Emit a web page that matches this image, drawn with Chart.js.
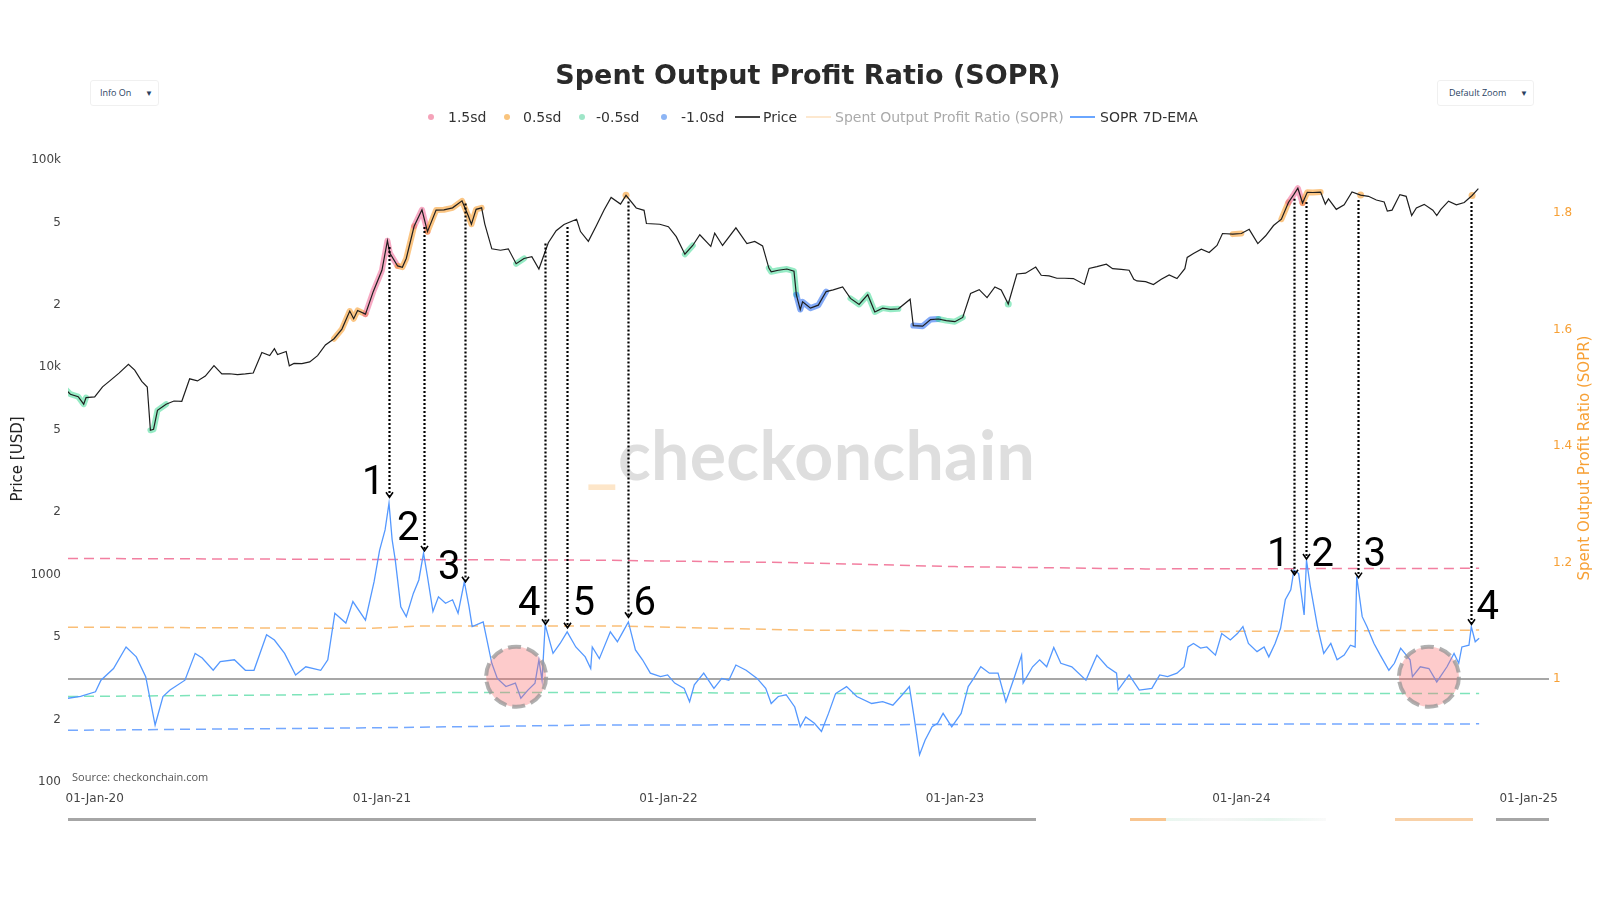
<!DOCTYPE html>
<html>
<head>
<meta charset="utf-8">
<title>Spent Output Profit Ratio (SOPR)</title>
<script src="https://cdn.jsdelivr.net/npm/chart.js@4.4.1/dist/chart.umd.min.js"></script>
<style>
  body { margin: 0; background: #fff; }
  #wrap { position: relative; width: 1600px; height: 900px; overflow: hidden; font-family: 'DejaVu Sans', sans-serif; }
  #chart { position: absolute; left: 0; top: 0; z-index: 1; }
  .abs { position: absolute; white-space: nowrap; z-index: 2; }
  .title { left: 0; width: 1616px; top: 60px; text-align: center; font: bold 27px 'DejaVu Sans', sans-serif; color: #2a2a2a; line-height: 30px; }
  .btn { top: 80px; height: 24px; border: 1px solid #f0f0f0; border-radius: 3px; background: #fff; font: 9px 'Open Sans', sans-serif; color: #2a3f5f; line-height: 24px; }
  .btn b { position: absolute; font-size: 8px; font-weight: normal; }
  .ltxt { top: 108px; font-size: 14px; line-height: 18px; color: #333; }
  .ldot { top: 114px; width: 6px; height: 6px; border-radius: 50%; }
  .lline { top: 116px; width: 25px; height: 2px; }
  .axt { font-size: 15px; line-height: 18px; width: 320px; text-align: center; transform: rotate(-90deg); }
  #wm { left: 586px; top: 420px; font: bold 68px 'Lato', sans-serif; line-height: 68px; color: #dedede; z-index: 0; letter-spacing: 0.3px; }
  #wm span { color: #fde6c9; }
  .src { left: 72px; top: 769px; font: 11px 'Open Sans', sans-serif; color: #555; line-height: 16px; }
  .rs { top: 818px; height: 3px; z-index: 2; }
</style>
</head>
<body>
<div id="wrap">
  <div class="abs" id="wm"><span>_</span>checkonchain</div>
  <canvas id="chart" width="1600" height="900"></canvas>

  <div class="abs title">Spent Output Profit Ratio (SOPR)</div>
  <div class="abs btn" style="left:90px;width:67px;"><span style="position:absolute;left:9px;">Info On</span><b style="left:54px;">&#9660;</b></div>
  <div class="abs btn" style="left:1437px;width:95px;"><span style="position:absolute;left:11px;">Default Zoom</span><b style="left:82px;">&#9660;</b></div>

  <div class="abs ldot" style="left:428px;background:#f5a3b9;"></div>
  <div class="abs ltxt" style="left:448px;">1.5sd</div>
  <div class="abs ldot" style="left:504px;background:#f9c47d;"></div>
  <div class="abs ltxt" style="left:523px;">0.5sd</div>
  <div class="abs ldot" style="left:579px;background:#9fe6c8;"></div>
  <div class="abs ltxt" style="left:596px;">-0.5sd</div>
  <div class="abs ldot" style="left:661px;background:#8db5f5;"></div>
  <div class="abs ltxt" style="left:681px;">-1.0sd</div>
  <div class="abs lline" style="left:735px;background:#444;"></div>
  <div class="abs ltxt" style="left:763px;">Price</div>
  <div class="abs lline" style="left:806px;background:#fde8cf;"></div>
  <div class="abs ltxt" style="left:835px;color:#aaa;">Spent Output Profit Ratio (SOPR)</div>
  <div class="abs lline" style="left:1070px;background:#6aa6ff;"></div>
  <div class="abs ltxt" style="left:1100px;">SOPR 7D-EMA</div>

  <div class="abs axt" style="left:-143px;top:450px;color:#222;">Price [USD]</div>
  <div class="abs axt" style="left:1424px;top:449px;color:#f7a035;">Spent Output Profit Ratio (SOPR)</div>

  <div class="abs src">Source: checkonchain.com</div>

  <div class="abs rs" style="left:68px;width:968px;background:#a6a6a6;"></div>
  <div class="abs rs" style="left:1130px;width:36px;background:#f6b26b;opacity:0.75;"></div>
  <div class="abs rs" style="left:1166px;width:160px;background:linear-gradient(90deg,#e9f7f0,#f5f5f5,#e6f6ee,#fafafa);"></div>
  <div class="abs rs" style="left:1395px;width:78px;background:#f4b36e;opacity:0.6;"></div>
  <div class="abs rs" style="left:1496px;width:53px;background:#a6a6a6;"></div>
</div>

<script>
// ---- price (left, log) ----
const priceDates = [
  '2019-11-21', '2019-12-01', '2019-12-11', '2019-12-18', '2019-12-21',
  '2020-01-01', '2020-01-11', '2020-01-21', '2020-02-01', '2020-02-13', '2020-02-21', '2020-03-01', '2020-03-08',
  '2020-03-12', '2020-03-16', '2020-03-21', '2020-04-01', '2020-04-11', '2020-04-21', '2020-05-01', '2020-05-11',
  '2020-05-21', '2020-06-01', '2020-06-11', '2020-06-21', '2020-07-01', '2020-07-11', '2020-07-21', '2020-08-01',
  '2020-08-11', '2020-08-17', '2020-08-21', '2020-09-01', '2020-09-05', '2020-09-11', '2020-09-21', '2020-10-01',
  '2020-10-11', '2020-10-21', '2020-11-01', '2020-11-11', '2020-11-21', '2020-11-26', '2020-12-01', '2020-12-11',
  '2020-12-21',
  '2021-01-01', '2021-01-08', '2021-01-11', '2021-01-21', '2021-01-27', '2021-02-01', '2021-02-11', '2021-02-21',
  '2021-02-28', '2021-03-11', '2021-03-21', '2021-04-01', '2021-04-13', '2021-04-21', '2021-04-25', '2021-05-01',
  '2021-05-08', '2021-05-12', '2021-05-21', '2021-06-01', '2021-06-11', '2021-06-21', '2021-07-01', '2021-07-11',
  '2021-07-20', '2021-08-01', '2021-08-11', '2021-08-21', '2021-09-06', '2021-09-11', '2021-09-21', '2021-10-01',
  '2021-10-11', '2021-10-20', '2021-11-01', '2021-11-08', '2021-11-21', '2021-12-01', '2021-12-04', '2021-12-21',
  '2022-01-01', '2022-01-11', '2022-01-22', '2022-02-01', '2022-02-10', '2022-02-24', '2022-03-01', '2022-03-11',
  '2022-03-28', '2022-04-11', '2022-04-21', '2022-05-01', '2022-05-09', '2022-05-12', '2022-05-21', '2022-06-01',
  '2022-06-10', '2022-06-13', '2022-06-18', '2022-06-21', '2022-07-01', '2022-07-11', '2022-07-21', '2022-07-30',
  '2022-08-11', '2022-08-21', '2022-09-01', '2022-09-12', '2022-09-21', '2022-10-01', '2022-10-11', '2022-10-21',
  '2022-11-05', '2022-11-09', '2022-11-21', '2022-12-01', '2022-12-11', '2022-12-21',
  '2023-01-01', '2023-01-11', '2023-01-21', '2023-02-01', '2023-02-11', '2023-02-21', '2023-03-01', '2023-03-10',
  '2023-03-21', '2023-04-01', '2023-04-14', '2023-04-21', '2023-05-01', '2023-05-11', '2023-05-21', '2023-06-01',
  '2023-06-15', '2023-06-21', '2023-07-01', '2023-07-13', '2023-07-21', '2023-08-01', '2023-08-11', '2023-08-17',
  '2023-08-21', '2023-09-01', '2023-09-11', '2023-09-21', '2023-10-01', '2023-10-11', '2023-10-21', '2023-10-24',
  '2023-11-01', '2023-11-11', '2023-11-21', '2023-12-01', '2023-12-08', '2023-12-21',
  '2024-01-01', '2024-01-11', '2024-01-22', '2024-02-01', '2024-02-11', '2024-02-21', '2024-03-01', '2024-03-08',
  '2024-03-13', '2024-03-19', '2024-03-25', '2024-04-01', '2024-04-11', '2024-04-17', '2024-04-21', '2024-05-01',
  '2024-05-11', '2024-05-21', '2024-06-01', '2024-06-11', '2024-06-21', '2024-07-01', '2024-07-05', '2024-07-11',
  '2024-07-21', '2024-07-29', '2024-08-05', '2024-08-11', '2024-08-21', '2024-09-01', '2024-09-06', '2024-09-11',
  '2024-09-21', '2024-10-01', '2024-10-11', '2024-10-21', '2024-10-29'
];
const priceValues = [
  8100, 7420, 7220, 6640, 7150,
  7200, 8050, 8650, 9380, 10350, 9690, 8550, 8040,
  4970, 5020, 6200, 6640, 6880, 6860, 8800, 8600,
  9080, 10200, 9300, 9310, 9230, 9290, 9390, 11800,
  11400, 12300, 11520, 11920, 10170, 10440, 10420, 10620,
  11390, 12820, 13740, 15290, 18680, 17150, 18800, 18060,
  23240,
  29370, 40800, 35570, 30830, 30400, 33500, 47910, 57540,
  45140, 57330, 57520, 58780, 63500, 53800, 49000, 57800,
  58800, 49200, 37300, 36700, 37300, 31600, 33500, 34200,
  29800, 39900, 45600, 48900, 51750, 45160, 40500, 48100,
  57400, 65990, 61300, 67550, 58700, 57200, 49400, 49000,
  47700, 42700, 35100, 38700, 43600, 38300, 44400, 38700,
  47100, 39500, 40500, 38500, 30100, 28900, 29400, 29800,
  29100, 22400, 19000, 20700, 19300, 19950, 23200, 23650,
  24400, 21500, 20100, 22400, 18500, 19300, 19050, 19150,
  21300, 15900, 15800, 17000, 17100, 16800,
  16600, 17400, 22700, 23700, 21700, 24400, 23600, 20200,
  28200, 28450, 30450, 27800, 27600, 26900, 26900, 26800,
  25100, 30000, 30600, 31450, 29900, 29700, 29400, 26600,
  26100, 25900, 25100, 26600, 27900, 26800, 29900, 33900,
  35400, 37100, 35800, 38700, 44200, 43900,
  44200, 46300, 39500, 43100, 48300, 51800, 62400, 68300,
  73100, 62000, 69900, 69700, 70000, 61300, 64900, 57800,
  60800, 70100, 67700, 66800, 64100, 62700, 56700, 57300,
  68100, 66800, 54000, 58700, 61100, 57300, 53950, 57600,
  63300, 60800, 62400, 67400, 72700
];
// SOPR band each price point sits in: p = 1.5sd, o = 0.5sd, g = -0.5sd, b = -1.0sd
const priceBand = [
  'g', 'g', 'g', 'g', 'g',
  '', '', '', '', '', '', '', '',
  'g', 'g', 'g', 'g', '', '', '', '',
  '', '', '', '', '', '', '', '',
  '', '', '', '', '', '', '', '',
  '', '', 'o', 'o', 'o', 'o', 'o', 'o',
  'p',
  'p', 'p', 'p', 'o', 'o', 'o', 'o', 'p',
  'o', 'o', 'o', 'o', 'o', 'o', 'o', 'o',
  'o', '', '', '', '', 'g', 'g', '',
  '', '', '', '', '', '', '', '',
  '', '', '', 'o', '', '', '', '',
  '', '', 'g', 'g', '', '', '', '',
  '', '', '', '', 'g', 'g', 'g', 'g',
  'g', 'b', 'b', 'b', 'b', 'b', 'g', '',
  '', 'g', 'g', 'g', 'g', 'g', 'g', 'g',
  '', 'b', 'b', 'b', 'g', 'g',
  'g', 'g', '', '', '', '', '', 'g',
  '', '', '', '', '', '', '', '',
  '', '', '', '', '', '', '', '',
  '', '', '', '', '', '', '', '',
  '', '', '', '', '', 'o',
  'o', '', '', '', '', 'o', 'o', 'p',
  'p', 'o', 'o', 'o', 'o', '', '', '',
  '', '', 'o', '', '', '', '', '',
  '', '', '', '', '', '', '', '',
  '', '', '', 'o', ''
];

// ---- SOPR 7D-EMA (right axis) ----
const soprDates = [
  '2019-11-28', '2019-12-14', '2020-01-02', '2020-01-09', '2020-01-25', '2020-02-10', '2020-02-23', '2020-03-06',
  '2020-03-18', '2020-03-28', '2020-04-06', '2020-04-25', '2020-05-08', '2020-05-17', '2020-05-31', '2020-06-09',
  '2020-06-27', '2020-07-11', '2020-07-22', '2020-08-07', '2020-08-17', '2020-08-30', '2020-09-13', '2020-09-26',
  '2020-10-15', '2020-10-24', '2020-11-02', '2020-11-16', '2020-11-25', '2020-12-11', '2020-12-22', '2020-12-29',
  '2021-01-05', '2021-01-10', '2021-01-14', '2021-01-18', '2021-01-25', '2021-02-01', '2021-02-10', '2021-02-17',
  '2021-02-23', '2021-02-28', '2021-03-07', '2021-03-14', '2021-03-23', '2021-04-01', '2021-04-08', '2021-04-16',
  '2021-04-22', '2021-04-26', '2021-05-10', '2021-05-21', '2021-05-28', '2021-06-08', '2021-06-20', '2021-06-27',
  '2021-07-06', '2021-07-15', '2021-07-20', '2021-07-24', '2021-07-28', '2021-08-07', '2021-08-16', '2021-08-25',
  '2021-09-05', '2021-09-17', '2021-09-24', '2021-09-26', '2021-10-05', '2021-10-19', '2021-10-28', '2021-11-04',
  '2021-11-11', '2021-11-20', '2021-11-29', '2021-12-09', '2021-12-22', '2021-12-31',
  '2022-01-09', '2022-01-21', '2022-01-28', '2022-02-03', '2022-02-15', '2022-02-28', '2022-03-10', '2022-03-19',
  '2022-03-28', '2022-04-10', '2022-04-24', '2022-05-05', '2022-05-12', '2022-05-21', '2022-05-31', '2022-06-11',
  '2022-06-18', '2022-06-25', '2022-07-06', '2022-07-15', '2022-07-24', '2022-08-02', '2022-08-16', '2022-08-29',
  '2022-09-17', '2022-10-01', '2022-10-14', '2022-10-26', '2022-11-04', '2022-11-10', '2022-11-17', '2022-11-24',
  '2022-12-03', '2022-12-10', '2022-12-17', '2022-12-28',
  '2023-01-09', '2023-01-18', '2023-01-25', '2023-02-03', '2023-02-14', '2023-02-25', '2023-03-07', '2023-03-18',
  '2023-03-27', '2023-03-29', '2023-04-10', '2023-04-19', '2023-04-28', '2023-05-07', '2023-05-16', '2023-05-30',
  '2023-06-17', '2023-07-01', '2023-07-14', '2023-07-26', '2023-07-28', '2023-08-11', '2023-08-24', '2023-09-09',
  '2023-09-19', '2023-09-29', '2023-10-11', '2023-10-20', '2023-10-25', '2023-11-01', '2023-11-10', '2023-11-18',
  '2023-11-29', '2023-12-07', '2023-12-18', '2023-12-27',
  '2024-01-03', '2024-01-10', '2024-01-21', '2024-01-30', '2024-02-05', '2024-02-13', '2024-02-20', '2024-02-26',
  '2024-03-04', '2024-03-08', '2024-03-14', '2024-03-21', '2024-03-24', '2024-03-29', '2024-04-07', '2024-04-15',
  '2024-04-24', '2024-05-02', '2024-05-11', '2024-05-19', '2024-05-25', '2024-05-27', '2024-06-03', '2024-06-09',
  '2024-06-18', '2024-06-26', '2024-07-07', '2024-07-14', '2024-07-22', '2024-08-03', '2024-08-06', '2024-08-16',
  '2024-08-27', '2024-09-06', '2024-09-19', '2024-09-28', '2024-10-04', '2024-10-08', '2024-10-17', '2024-10-20',
  '2024-10-25', '2024-10-30'
];
const soprEma = [
  0.967, 0.970, 0.978, 0.998, 1.018, 1.055, 1.038, 1.004,
  0.921, 0.970, 0.981, 0.998, 1.044, 1.036, 1.015, 1.030,
  1.033, 1.015, 1.015, 1.076, 1.067, 1.044, 1.007, 1.021,
  1.015, 1.033, 1.113, 1.096, 1.133, 1.101, 1.167, 1.221,
  1.256, 1.302, 1.239, 1.204, 1.124, 1.107, 1.147, 1.170,
  1.216, 1.176, 1.116, 1.141, 1.130, 1.136, 1.113, 1.167,
  1.124, 1.090, 1.098, 1.027, 1.001, 0.987, 0.993, 0.967,
  0.981, 0.993, 1.033, 0.998, 1.093, 1.044, 1.061, 1.081,
  1.055, 1.038, 1.018, 1.055, 1.035, 1.081, 1.064, 1.081,
  1.098, 1.050, 1.033, 1.010, 1.004, 1.007,
  0.993, 0.984, 0.961, 0.990, 1.010, 0.984, 1.001, 0.998,
  1.024, 1.015, 1.001, 0.984, 0.958, 0.970, 0.973, 0.952,
  0.918, 0.935, 0.924, 0.910, 0.941, 0.975, 0.987, 0.970,
  0.958, 0.961, 0.955, 0.973, 0.987, 0.935, 0.870, 0.895,
  0.918, 0.924, 0.941, 0.918,
  0.941, 0.987, 1.001, 1.021, 1.010, 1.010, 0.961, 1.004,
  1.041, 0.993, 1.021, 1.033, 1.021, 1.054, 1.027, 1.021,
  0.998, 1.041, 1.021, 1.010, 0.981, 1.007, 0.981, 0.984,
  1.007, 1.004, 1.010, 1.021, 1.055, 1.061, 1.053, 1.055,
  1.041, 1.078, 1.067, 1.078,
  1.090, 1.061, 1.047, 1.055, 1.038, 1.061, 1.087, 1.136,
  1.153, 1.187, 1.181, 1.110, 1.204, 1.158, 1.090, 1.044,
  1.061, 1.033, 1.041, 1.058, 1.055, 1.176, 1.107, 1.090,
  1.061, 1.041, 1.015, 1.027, 1.053, 1.033, 1.004, 1.021,
  1.018, 0.995, 1.021, 1.044, 1.027, 1.055, 1.058, 1.090,
  1.064, 1.070
];

// ---- SOPR standard-deviation bands ----
const sd15Dates = ['2019-11-28', '2021-10-01', '2022-06-01', '2023-01-01', '2023-09-01', '2024-10-30'];
const sd15Values = [1.207, 1.204, 1.200, 1.193, 1.189, 1.190];
const sd05Dates = ['2019-11-28', '2020-12-15', '2021-02-15', '2021-11-01', '2022-06-15', '2023-09-01', '2024-10-30'];
const sd05Values = [1.089, 1.087, 1.091, 1.091, 1.084, 1.081, 1.084];
const sdm05Dates = ['2019-11-28', '2020-10-01', '2021-04-01', '2021-11-01', '2022-09-01', '2024-10-30'];
const sdm05Values = [0.970, 0.973, 0.977, 0.977, 0.975, 0.975];
const sdm10Dates = ['2019-11-28', '2020-12-01', '2021-10-01', '2024-10-30'];
const sdm10Values = [0.912, 0.916, 0.921, 0.923];
const oneDates = ['2019-11-28', '2025-01-27'];
const oneValues = [1, 1];

// ---- annotations: arrows from price down to SOPR peaks ----
const annDates = ['2021-01-10', '2021-02-24', '2021-04-17', '2021-07-28', '2021-08-25', '2021-11-10',
                  '2024-03-08', '2024-03-24', '2024-05-29', '2024-10-19'];
const annPriceTop = [38900, 48600, 63000, 40400, 48600, 64500, 66500, 64200, 65600, 64200];
const annSoprTip = [1.312, 1.220, 1.167, 1.094, 1.088, 1.106, 1.179, 1.206, 1.174, 1.094];
const annLabelSopr = [1.342, 1.262, 1.196, 1.134, 1.134, 1.134, 1.218, 1.218, 1.218, 1.127];
const annLabels = ['1', '2', '3', '4', '5', '6', '1', '2', '3', '4'];
const annSide = [-1, -1, -1, -1, 1, 1, -1, 1, 1, 1];
const circleDates = ['2021-06-21', '2024-08-27'];
const circleSopr = [1.004, 1.004];

// ---- axes ----
const xMinDate = '2019-11-28';
const xMaxDate = '2025-01-27';
const xTickDates = ['2020-01-01', '2021-01-01', '2022-01-01', '2023-01-01', '2024-01-01', '2025-01-01'];
const xTickLabels = ['01-Jan-20', '01-Jan-21', '01-Jan-22', '01-Jan-23', '01-Jan-24', '01-Jan-25'];
const priceTickValues = [100, 200, 500, 1000, 2000, 5000, 10000, 20000, 50000, 100000];
const priceTickLabels = ['100', '2', '5', '1000', '2', '5', '10k', '2', '5', '100k'];
const soprTickValues = [1, 1.2, 1.4, 1.6, 1.8];
const soprTickLabels = ['1', '1.2', '1.4', '1.6', '1.8'];

const DAY0 = Date.UTC(2020, 0, 1);
const toDay = s => { const p = s.split('-'); return (Date.UTC(+p[0], +p[1] - 1, +p[2]) - DAY0) / 864e5; };
const pts = (dates, vals) => dates.map((d, i) => ({ x: toDay(d), y: vals[i] }));
const xTickDays = xTickDates.map(toDay);

const bandColors = {
  p: 'rgba(240,98,146,0.55)',
  o: 'rgba(247,150,30,0.55)',
  g: 'rgba(45,215,140,0.5)',
  b: 'rgba(30,100,240,0.55)'
};
const isolated = i => priceBand[i] && !priceBand[i - 1] && !priceBand[i + 1];

const bandLine = (dates, vals, color) => ({
  data: pts(dates, vals), yAxisID: 'ySopr', borderColor: color, borderWidth: 1.5,
  borderDash: [10, 6], pointRadius: 0
});

const annotationPlugin = {
  id: 'soprAnnotations',
  afterDatasetsDraw(chart) {
    const { ctx, scales } = chart;
    const x = scales.x, yP = scales.yPrice, yS = scales.ySopr;
    ctx.save();
    circleDates.forEach((d, i) => {
      const cx = x.getPixelForValue(toDay(d)), cy = yS.getPixelForValue(circleSopr[i]);
      ctx.beginPath();
      ctx.arc(cx, cy, 30, 0, Math.PI * 2);
      ctx.fillStyle = 'rgba(250,110,110,0.36)';
      ctx.fill();
      ctx.setLineDash([13, 6]);
      ctx.lineWidth = 4;
      ctx.strokeStyle = 'rgba(150,150,150,0.75)';
      ctx.stroke();
    });
    annDates.forEach((d, i) => {
      const ax = Math.round(x.getPixelForValue(toDay(d))) + 0.5;
      const y0 = yP.getPixelForValue(annPriceTop[i]) + 2;
      const y1 = yS.getPixelForValue(annSoprTip[i]);
      ctx.setLineDash([2, 2]);
      ctx.lineWidth = 2.2;
      ctx.strokeStyle = '#000';
      ctx.beginPath();
      ctx.moveTo(ax, y0);
      ctx.lineTo(ax, y1 - 1);
      ctx.stroke();
      ctx.setLineDash([]);
      ctx.lineWidth = 1.6;
      ctx.beginPath();
      ctx.moveTo(ax - 3.5, y1 - 5);
      ctx.lineTo(ax, y1);
      ctx.lineTo(ax + 3.5, y1 - 5);
      ctx.stroke();
      ctx.font = '40px Roboto';
      ctx.fillStyle = '#000';
      ctx.textBaseline = 'alphabetic';
      ctx.textAlign = annSide[i] < 0 ? 'right' : 'left';
      ctx.fillText(annLabels[i], ax + annSide[i] * 5, yS.getPixelForValue(annLabelSopr[i]) + 14);
    });
    ctx.restore();
  }
};

const tickFont = { family: 'DejaVu Sans', size: 12 };

new Chart(document.getElementById('chart').getContext('2d'), {
  type: 'line',
  data: {
    datasets: [
      {
        label: 'Price', data: pts(priceDates, priceValues), yAxisID: 'yPrice',
        borderColor: '#1e1e1e', borderWidth: 1.2, pointRadius: 0
      },
      {
        label: 'band', data: pts(priceDates, priceValues), yAxisID: 'yPrice',
        borderColor: 'rgba(0,0,0,0)', borderWidth: 6, borderCapStyle: 'round', borderJoinStyle: 'round',
        segment: {
          borderColor: c => {
            const a = priceBand[c.p0DataIndex], b = priceBand[c.p1DataIndex];
            if (!a || !b) return 'rgba(0,0,0,0)';
            return bandColors[a === 'p' || b === 'p' ? 'p' : a];
          }
        },
        pointRadius: c => isolated(c.dataIndex) ? 3.5 : 0,
        pointBorderWidth: 0,
        pointBackgroundColor: c => bandColors[priceBand[c.dataIndex]] || 'rgba(0,0,0,0)'
      },
      {
        label: 'SOPR 7D-EMA', data: pts(soprDates, soprEma), yAxisID: 'ySopr',
        borderColor: 'rgb(84,152,255)', borderWidth: 1.3, pointRadius: 0
      },
      {
        label: 'one', data: pts(oneDates, oneValues), yAxisID: 'ySopr',
        borderColor: '#8a8a8a', borderWidth: 1.6, pointRadius: 0
      },
      bandLine(sd15Dates, sd15Values, 'rgba(236,72,120,0.7)'),
      bandLine(sd05Dates, sd05Values, 'rgba(247,147,26,0.6)'),
      bandLine(sdm05Dates, sdm05Values, 'rgba(40,210,140,0.6)'),
      bandLine(sdm10Dates, sdm10Values, 'rgba(41,121,255,0.65)')
    ]
  },
  options: {
    responsive: false,
    animation: false,
    devicePixelRatio: 1,
    layout: { padding: { top: 160, left: 0, right: 0, bottom: 0 } },
    plugins: { legend: { display: false }, tooltip: { enabled: false } },
    elements: { line: { tension: 0 } },
    scales: {
      x: {
        type: 'linear', min: toDay(xMinDate), max: toDay(xMaxDate),
        grid: { display: false, drawTicks: false }, border: { display: false },
        afterBuildTicks: s => { s.ticks = xTickDays.map(v => ({ value: v })); },
        afterFit: s => { s.height = 118; },
        ticks: {
          autoSkip: false, maxRotation: 0, padding: 10, font: tickFont, color: '#444',
          callback: v => xTickLabels[xTickDays.indexOf(v)] ?? ''
        }
      },
      yPrice: {
        type: 'logarithmic', position: 'left', min: 100, max: 100000,
        grid: { display: false, drawTicks: false }, border: { display: false },
        afterBuildTicks: s => { s.ticks = priceTickValues.map(v => ({ value: v })); },
        afterFit: s => { s.width = 68; },
        ticks: {
          autoSkip: false, padding: 7, font: tickFont, color: '#444',
          callback: v => priceTickLabels[priceTickValues.indexOf(v)] ?? ''
        }
      },
      ySopr: {
        type: 'linear', position: 'right', min: 0.8232, max: 1.891,
        grid: { display: false, drawTicks: false }, border: { display: false },
        afterBuildTicks: s => { s.ticks = soprTickValues.map(v => ({ value: v })); },
        afterFit: s => { s.width = 51; },
        ticks: {
          autoSkip: false, padding: 4, font: tickFont, color: '#f7a035',
          callback: v => soprTickLabels[soprTickValues.indexOf(v)] ?? ''
        }
      }
    }
  },
  plugins: [annotationPlugin]
});
</script>
</body>
</html>
